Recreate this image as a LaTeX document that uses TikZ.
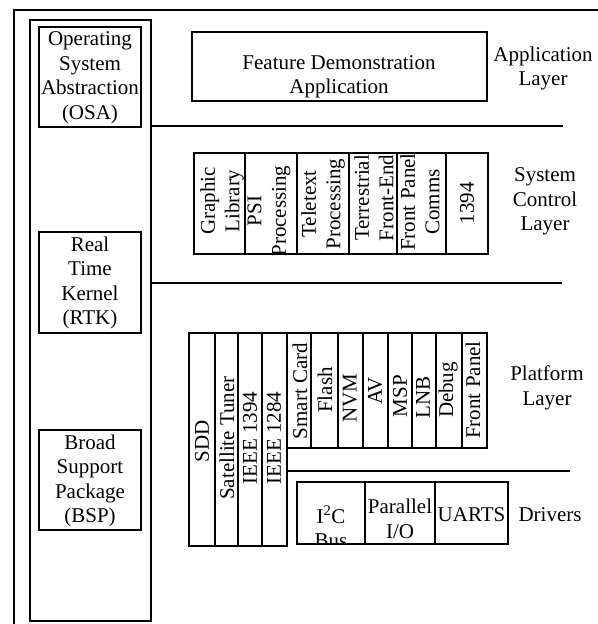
\documentclass[tikz,border=0pt]{standalone}
\usepackage{fontspec}
\setmainfont{Liberation Serif}
\tikzset{
  box/.style={draw, line width=1.4bp},
  sep/.style={draw, line width=1.4bp},
  txt/.style={font=\fontsize{21bp}{24.5bp}\selectfont, align=center, inner sep=0pt},
  vtxt/.style={txt, rotate=90},
}
\begin{document}
\begin{tikzpicture}[x=1bp, y=-1bp]
\useasboundingbox (0,0) rectangle (598,624);
\clip (0,0) rectangle (598,624);
% outer frame (runs past the page on right and bottom)
\draw[box] (14,10) rectangle (660,680);
% left column
\draw[box] (30,20) rectangle (151,621);
\draw[box] (39,27) rectangle (141,127);
\node[txt] (osa) at (90,78) {Operating\\System\\Abstraction\\(OSA)};
\draw[box] (39,232) rectangle (141,333);
\node[txt] (rtk) at (90,283) {Real\\Time\\Kernel\\(RTK)};
\draw[box] (39,430) rectangle (141,530);
\node[txt] (bsp) at (90,481) {Broad\\Support\\Package\\(BSP)};
% application layer
\draw[box] (192,32) rectangle (487,101);
\node[txt] (fda) at (339,77) {Feature Demonstration\\Application};
\node[txt] (applayer) at (543,68.5) {Application\\Layer};
\coordinate (s1a) at (151,126); \coordinate (s1b) at (563,126);
\draw[sep] (s1a) -- (s1b);
% system control layer
\foreach \xa/\xb in {194/245,245/297,297/349,349/397,397/446,446/488}
  \draw[box] (\xa,153) rectangle (\xb,254);
\node[vtxt] (gl) at (222,201) {Graphic\\Library};
\node[vtxt] (psi) at (269,211) {PSI\\Processing};
\node[vtxt] (tele) at (323,204) {Teletext\\Processing};
\node[vtxt] (terr) at (374,198) {Terrestrial\\Front-End};
\node[vtxt] (fpc) at (420,202) {Front Panel\\Comms};
\node[vtxt] (c1394) at (467,203) {1394};
\node[txt] (syslayer) at (545,201.7) {System\\Control\\Layer};
\coordinate (s2a) at (151,283); \coordinate (s2b) at (562,283);
\draw[sep] (s2a) -- (s2b);
% platform layer
\foreach \xa/\xb in {189/215,215/238,238/262,262/287}
  \draw[box] (\xa,333) rectangle (\xb,546);
\foreach \xa/\xb in {287/311,311/338,338/363,363/388,388/412,412/436,436/462,462/487}
  \draw[box] (\xa,333) rectangle (\xb,448);
\node[vtxt] (sdd) at (202,441) {SDD};
\node[vtxt] (sat) at (227,438) {Satellite Tuner};
\node[vtxt] (ie94) at (250,438) {IEEE 1394};
\node[vtxt] (ie84) at (274,438) {IEEE 1284};
\node[vtxt] (sc) at (300,391) {Smart Card};
\node[vtxt] (flash) at (325,390) {Flash};
\node[vtxt] (nvm) at (350,398) {NVM};
\node[vtxt] (av) at (375,391) {AV};
\node[vtxt] (msp) at (400,396) {MSP};
\node[vtxt] (lnb) at (423,397) {LNB};
\node[vtxt] (dbg) at (448,390) {Debug};
\node[vtxt] (fp) at (473,390) {Front Panel};
\node[txt] (platlayer) at (547,388) {Platform\\Layer};
\coordinate (s3a) at (287,471); \coordinate (s3b) at (570,471);
\draw[sep] (s3a) -- (s3b);
% drivers
\begin{scope}
  \clip (297,482) rectangle (365,544);
  \node[txt] (i2c) at (331,527) {I\textsuperscript{2}C\\Bus};
\end{scope}
\foreach \xa/\xb in {297/365,365/435,435/508}
  \draw[box] (\xa,482) rectangle (\xb,544);
\node[txt] (pio) at (400,519) {Parallel\\I/O};
\node[txt] (uarts) at (471.5,515) {UARTS};
\node[txt] (drv) at (550,515) {Drivers};
\end{tikzpicture}
\end{document}
